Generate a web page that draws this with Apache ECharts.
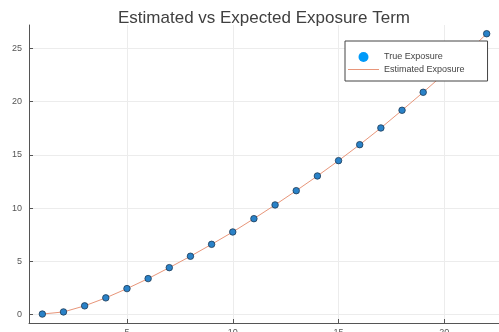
<!DOCTYPE html>
<html>
<head>
<meta charset="utf-8">
<script src="https://cdn.jsdelivr.net/npm/echarts@6/dist/echarts.min.js"></script>
<style>
html,body{margin:0;padding:0;background:#fff;}
#main{width:499px;height:332px;}
</style>
</head>
<body>
<div id="main"></div>
<script>
// data
var xs = [1,2,3,4,5,6,7,8,9,10,11,12,13,14,15,16,17,18,19,20,21,22];
var trueExp = [0.05,0.25,0.82,1.57,2.44,3.38,4.41,5.48,6.60,7.76,9.01,10.30,11.64,13.02,14.46,15.96,17.53,19.19,20.88,22.63,24.45,26.38];
var estExp = [0.05,0.25,0.82,1.57,2.44,3.38,4.41,5.48,6.60,7.76,9.01,10.30,11.64,13.02,14.46,15.96,17.53,19.19,20.88,22.63,24.45,26.38];
var xTicks = [5,10,15,20];
var yTicks = [0,5,10,15,20,25];

var chart = echarts.init(document.getElementById('main'));

function pairs(v){
	var out = [];
	for (var i = 0; i < xs.length; i++) {
		out.push([xs[i], v[i]]);
	}
	return out;
}

var axisCol = '#555';
var gridCol = '#ececec';

var option = {
	animation: false,
	backgroundColor: '#fff',
	title: {
		text: 'Estimated vs Expected Exposure Term',
		left: 113,
		top: 5,
		textStyle: {fontFamily: 'Liberation Sans', fontSize: 17, fontWeight: 'normal', color: '#404040'}
	},
	grid: {left: 29, right: -1, top: 25, bottom: 9, containLabel: false, outerBoundsMode: 'none'},
	xAxis: {
		type: 'value',
		min: 0.37, max: 22.63,
		axisLine: {onZero: false, lineStyle: {color: axisCol, width: 1}},
		axisTick: {inside: true, length: 4, customValues: xTicks, lineStyle: {color: axisCol}},
		axisLabel: {customValues: xTicks, color: '#555', fontSize: 9, fontFamily: 'Liberation Sans', margin: 5},
		splitLine: {show: true, lineStyle: {color: gridCol, width: 1}}
	},
	yAxis: {
		type: 'value',
		min: -0.79, max: 27.2,
		axisLine: {show: true, onZero: false, lineStyle: {color: axisCol, width: 1}},
		axisTick: {show: true, inside: true, length: 4, customValues: yTicks, lineStyle: {color: axisCol}},
		axisLabel: {customValues: yTicks, color: '#555', fontSize: 9, fontFamily: 'Liberation Sans', margin: 7},
		splitLine: {show: true, lineStyle: {color: gridCol, width: 1}}
	},
	legend: {
		orient: 'vertical',
		left: 345, top: 41,
		padding: [11, 23, 7, 3],
		itemGap: 3,
		itemWidth: 31, itemHeight: 10,
		backgroundColor: '#fff',
		borderColor: '#444', borderWidth: 1,
		textStyle: {fontFamily: 'Liberation Sans', fontSize: 9, color: '#444'},
		data: [
			{name: 'True Exposure', icon: 'circle', itemStyle: {color: '#009af9', borderWidth: 0}},
			{name: 'Estimated Exposure', icon: 'path://M0,4.5H31V5.5H0Z', itemStyle: {color: '#e8967a', borderWidth: 0}}
		]
	},
	series: [
		{
			name: 'Estimated Exposure',
			type: 'line',
			data: pairs(estExp),
			showSymbol: false,
			symbol: 'none',
			lineStyle: {color: '#e8967a', width: 1},
			itemStyle: {color: '#e8967a'},
			z: 2
		},
		{
			name: 'True Exposure',
			type: 'scatter',
			data: pairs(trueExp),
			symbolSize: 6.5,
			itemStyle: {color: '#2a82c8', borderColor: '#1d3a55', borderWidth: 0.8, opacity: 1},
			z: 3
		}
	]
};
chart.setOption(option);
</script>
</body>
</html>
